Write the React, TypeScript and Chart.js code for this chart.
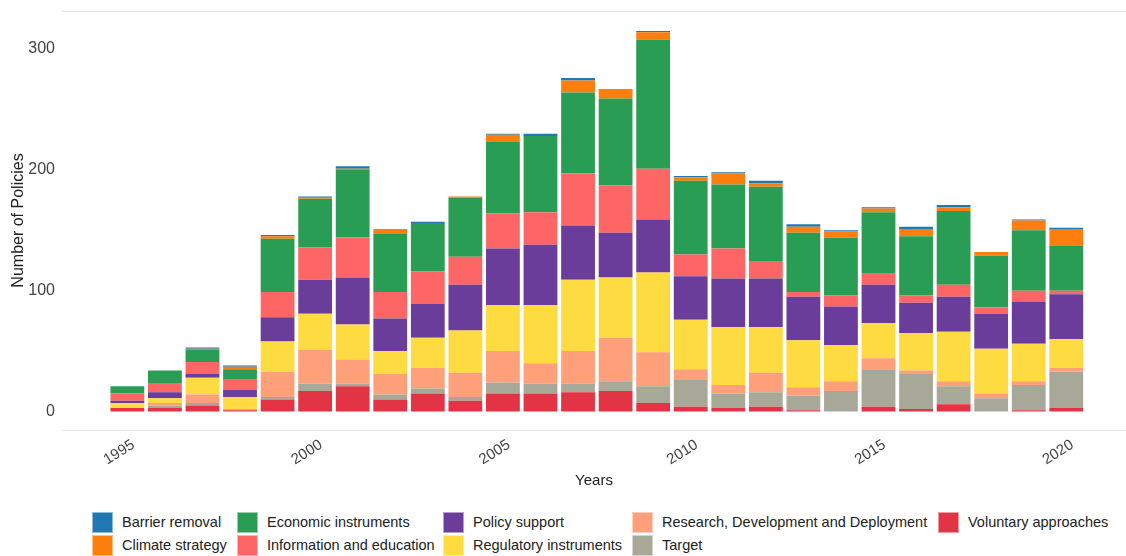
import React, { useEffect, useRef } from "react";
import { Chart, registerables } from "chart.js";

Chart.register(...registerables);

const years = [
  1995, 1996, 1997, 1998, 1999, 2000, 2001, 2002, 2003, 2004, 2005, 2006, 2007,
  2008, 2009, 2010, 2011, 2012, 2013, 2014, 2015, 2016, 2017, 2018, 2019, 2020,
];

const voluntaryApproaches = [3, 3, 5, 1, 10, 17, 21, 10, 15, 9, 15, 15, 16, 17, 7, 4, 3, 4, 1, 0, 4, 2, 6, 0, 1, 3];
const target = [0, 2, 2, 0, 2, 6, 2, 4, 4, 3, 9, 8, 7, 8, 14, 22, 12, 12, 12, 17, 31, 29, 15, 11, 21, 30];
const research = [0, 2, 7, 1, 21, 28, 20, 17, 17, 20, 26, 17, 27, 36, 28, 9, 7, 16, 7, 8, 9, 3, 4, 4, 3, 3];
const regulatory = [4, 4, 14, 10, 25, 30, 29, 19, 25, 35, 38, 48, 59, 50, 66, 41, 48, 38, 39, 30, 29, 31, 41, 37, 31, 24];
const policySupport = [2, 5, 3, 6, 20, 28, 39, 27, 28, 38, 47, 50, 45, 37, 44, 36, 40, 40, 36, 32, 32, 25, 29, 29, 35, 37];
const information = [6, 7, 10, 9, 21, 27, 33, 22, 27, 23, 29, 27, 43, 39, 42, 18, 25, 14, 4, 9, 9, 6, 10, 5, 9, 3];
const economic = [6, 11, 10, 8, 44, 40, 56, 48, 40, 49, 59, 63, 67, 72, 107, 61, 53, 62, 49, 48, 51, 49, 61, 43, 50, 37];
const climateStrategy = [0, 0, 1, 2, 2, 1, 1, 4, 0, 1, 6, 0, 10, 8, 6, 3, 9, 3, 5, 5, 3, 6, 3, 3, 8, 14];
const barrierRemoval = [0, 0, 1, 1, 1, 1, 2, 0, 1, 0, 1, 2, 2, 0, 1, 1, 1, 2, 2, 1, 1, 2, 2, 0, 1, 1];

const xTickValues = [1995, 2000, 2005, 2010, 2015, 2020];
const yTickValues = [0, 100, 200, 300];

// stacking order (bottom to top)
const series = [
  { label: "Voluntary approaches", data: voluntaryApproaches, color: "#e33445" },
  { label: "Target", data: target, color: "#a8a898" },
  { label: "Research, Development and Deployment", data: research, color: "#ffa07a" },
  { label: "Regulatory instruments", data: regulatory, color: "#fedb41" },
  { label: "Policy support", data: policySupport, color: "#6a3d9a" },
  { label: "Information and education", data: information, color: "#fe6666" },
  { label: "Economic instruments", data: economic, color: "#2a9d54" },
  { label: "Climate strategy", data: climateStrategy, color: "#ff7f0e" },
  { label: "Barrier removal", data: barrierRemoval, color: "#1f77b4" },
];

const legendOrder = [
  "Barrier removal",
  "Climate strategy",
  "Economic instruments",
  "Information and education",
  "Policy support",
  "Regulatory instruments",
  "Research, Development and Deployment",
  "Target",
  "Voluntary approaches",
];

const FONT = "'Liberation Sans', Arial, Helvetica, sans-serif";

const framePlugin = {
  id: "frame",
  beforeDatasetsDraw(chart: any) {
    const { ctx, chartArea: a } = chart;
    ctx.save();
    ctx.strokeStyle = "#e6e6e6";
    ctx.lineWidth = 1;
    ctx.beginPath();
    ctx.moveTo(a.left, Math.round(a.top) + 0.5);
    ctx.lineTo(a.right, Math.round(a.top) + 0.5);
    ctx.moveTo(a.left, Math.round(a.bottom) + 0.5);
    ctx.lineTo(a.right, Math.round(a.bottom) + 0.5);
    ctx.stroke();
    ctx.restore();
  },
};

export default function App() {
  const canvasRef = useRef<HTMLCanvasElement>(null);

  useEffect(() => {
    document.body.style.margin = "0";
    Chart.defaults.font.family = FONT;
    const chart = new Chart(canvasRef.current as HTMLCanvasElement, {
      type: "bar",
      data: {
        datasets: series.map((s) => ({
          label: s.label,
          data: years.map((yr, i) => ({ x: yr, y: s.data[i] })),
          backgroundColor: s.color,
          borderWidth: 0,
          categoryPercentage: 1,
          barPercentage: 0.9,
        })),
      },
      options: {
        animation: false,
        responsive: false,
        layout: { padding: { top: 11, left: 0, right: 0, bottom: 0 } },
        plugins: { legend: { display: false }, tooltip: { enabled: false } },
        scales: {
          x: {
            type: "linear",
            stacked: true,
            min: 1993.26,
            max: 2021.59,
            offset: false,
            grid: { display: false, drawTicks: false },
            border: { display: false },
            afterBuildTicks: (s: any) => {
              s.ticks = xTickValues.map((v) => ({ value: v }));
            },
            afterFit: (s: any) => {
              s.height = 70;
              s.paddingLeft = 0;
              s.paddingRight = 0;
            },
            ticks: {
              minRotation: 32,
              maxRotation: 32,
              autoSkip: false,
              padding: 6,
              labelOffset: 6,
              color: "#444444",
              font: { size: 15, family: FONT },
              callback: (v: any) => String(v),
            },
            title: {
              display: true,
              text: "Years",
              color: "#222222",
              font: { size: 15, family: FONT },
              padding: { top: 0, bottom: 10 },
            },
          },
          y: {
            stacked: true,
            min: -15.3,
            max: 331.5,
            grid: { display: false, drawTicks: false },
            border: { display: false },
            afterBuildTicks: (s: any) => {
              s.ticks = yTickValues.map((v) => ({ value: v }));
            },
            afterFit: (s: any) => {
              s.width = 62;
              s.paddingTop = 0;
              s.paddingBottom = 0;
            },
            ticks: {
              padding: 7,
              color: "#444444",
              font: { size: 16, family: FONT },
            },
            title: {
              display: true,
              text: "Number of Policies",
              color: "#222222",
              font: { size: 16, family: FONT },
              padding: { top: 9, bottom: 0 },
            },
          },
        },
      },
      plugins: [framePlugin],
    } as any);
    return () => chart.destroy();
  }, []);

  const colorOf = (name: string) => series.find((s) => s.label === name)?.color;

  return (
    <div style={{ position: "relative", width: 1126, height: 556, background: "#fff", overflow: "hidden" }}>
      <canvas ref={canvasRef} width={1126} height={500} style={{ display: "block" }} />
      <div
        style={{
          position: "absolute",
          left: 92,
          top: 512,
          display: "grid",
          gridAutoFlow: "column",
          gridTemplateRows: "23px 23px",
          gridTemplateColumns: "145px 206px 189px 306px auto",
          fontFamily: FONT,
          fontSize: 14.5,
          color: "#222",
        }}
      >
        {legendOrder.map((name) => (
          <div key={name} style={{ display: "flex", alignItems: "center", height: 21, whiteSpace: "nowrap" }}>
            <span
              style={{
                display: "inline-block",
                width: 21,
                height: 21,
                boxSizing: "border-box",
                background: colorOf(name),
                border: "1px solid rgba(255,255,255,0.5)",
                marginRight: 9,
              }}
            />
            <span style={{ lineHeight: "21px" }}>{name}</span>
          </div>
        ))}
      </div>
    </div>
  );
}
